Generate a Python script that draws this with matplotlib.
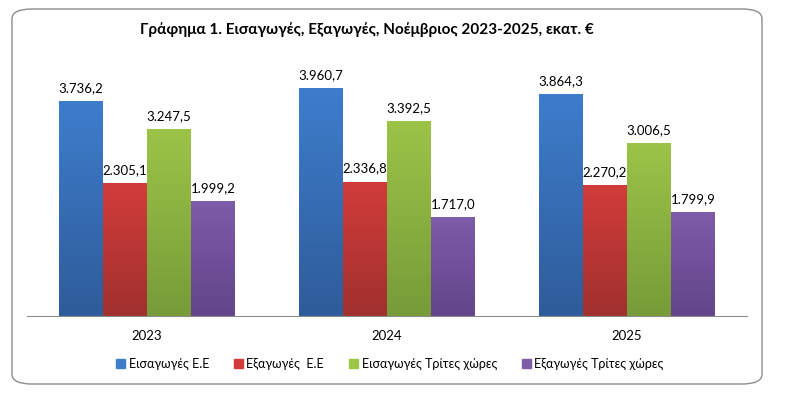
import matplotlib
matplotlib.use("Agg")
import matplotlib.pyplot as plt
import numpy as np
from matplotlib.patches import FancyBboxPatch
from matplotlib.colors import LinearSegmentedColormap

plt.rcParams['font.family'] = ['Lato', 'DejaVu Sans']

years = ["2023", "2024", "2025"]
series_names = ["Εισαγωγές Ε.Ε", "Εξαγωγές  Ε.Ε", "Εισαγωγές Τρίτες χώρες", "Εξαγωγές Τρίτες χώρες"]
imports_eu = [3736.2, 3960.7, 3864.3]
exports_eu = [2305.1, 2336.8, 2270.2]
imports_third = [3247.5, 3392.5, 3006.5]
exports_third = [1999.2, 1717.0, 1799.9]
series = [imports_eu, exports_eu, imports_third, exports_third]
top_colors = ["#3E7DCC", "#D13C3A", "#9CC448", "#7E5CA8"]
bottom_colors = ["#2E5C9A", "#A0302E", "#779B38", "#62458A"]
title = "Γράφημα 1. Εισαγωγές, Εξαγωγές, Νοέμβριος 2023-2025, εκατ. €"

def fmt(v):
    s = f"{v:,.1f}"
    return s.replace(",", "X").replace(".", ",").replace("X", ".")

W, H = 798, 393
fig = plt.figure(figsize=(W / 100, H / 100), dpi=100)

# rounded frame
frame = FancyBboxPatch((12 / W, 9 / H), (762 - 12) / W, (384 - 9) / H,
                       boxstyle="round,pad=0,rounding_size=0.025",
                       transform=fig.transFigure, facecolor="white",
                       edgecolor="#8C8C8C", linewidth=1.0, zorder=-5)
fig.patches.append(frame)

ax = fig.add_axes([27 / W, 1 - 316 / H, (747 - 27) / W, (316 - 57) / H])
ax.set_facecolor("none")
ax.patch.set_visible(False)

x = np.arange(len(years))
bw = 0.1833
offsets = (np.arange(4) - 1.5) * bw
grad = np.linspace(0, 1, 256).reshape(-1, 1)
for i, vals in enumerate(series):
    cmap = LinearSegmentedColormap.from_list(f"c{i}", [bottom_colors[i], top_colors[i]])
    bars = ax.bar(x + offsets[i], vals, width=bw, color=top_colors[i], label=series_names[i])
    for b, v in zip(bars, vals):
        x0, w = b.get_x(), b.get_width()
        im = ax.imshow(grad, extent=[x0, x0 + w, 0, v], origin="lower", cmap=cmap,
                       aspect="auto", zorder=2)
        im.set_clip_path(b)
        b.set_facecolor("none")
        ax.text(x0 + w / 2, v + 120, fmt(v), ha="center", va="bottom", fontsize=9.5, color="black", zorder=3)

ax.set_xlim(-0.5, 2.5)
ax.set_ylim(0, 4500)
for s in ["top", "right", "left"]:
    ax.spines[s].set_visible(False)
ax.spines["bottom"].set_color("#8C8C8C")
ax.set_yticks([])
ax.set_xticks(x)
ax.set_xticklabels(years, fontsize=9.5)
ax.tick_params(axis="x", length=0, pad=10)

fig.text(367 / W, 1 - 30 / H, title, ha="center", va="center", fontsize=11, fontweight="bold")

handles = [plt.Rectangle((0, 0), 1, 1, color=c) for c in top_colors]
fig.legend(handles, series_names, loc="center", bbox_to_anchor=(390 / W, 1 - 364 / H),
           ncol=4, frameon=False, fontsize=9, handlelength=0.7, handleheight=0.7,
           handletextpad=0.3, columnspacing=2.0)

fig.savefig("out.png", dpi=100)
